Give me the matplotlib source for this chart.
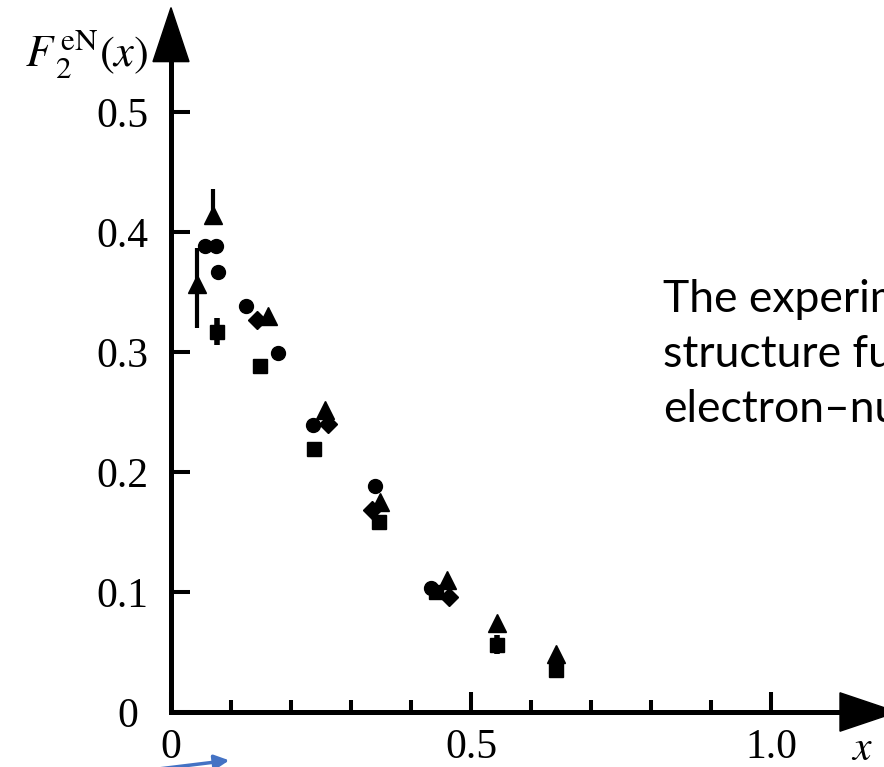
import matplotlib
matplotlib.use("Agg")
import matplotlib.pyplot as plt
from matplotlib.patches import Polygon
from matplotlib.ticker import FixedLocator
import matplotlib.transforms as mtransforms

# data: F2(x) for electron-nucleon scattering
tri_x = [0.043, 0.070, 0.162, 0.257, 0.348, 0.460, 0.543, 0.642]
tri_y = [0.357, 0.414, 0.330, 0.252, 0.175, 0.110, 0.074, 0.048]
tri_err_lo = [0.037, 0.0, 0.0, 0.0, 0.0, 0.0, 0.0, 0.0]
tri_err_hi = [0.030, 0.022, 0.0, 0.0, 0.0, 0.0, 0.0, 0.0]

circ_x = [0.057, 0.075, 0.078, 0.125, 0.178, 0.237, 0.340, 0.433]
circ_y = [0.388, 0.388, 0.367, 0.338, 0.299, 0.239, 0.188, 0.103]

sq_x = [0.077, 0.148, 0.238, 0.347, 0.442, 0.543, 0.642]
sq_y = [0.317, 0.288, 0.219, 0.158, 0.100, 0.056, 0.035]
sq_err = [0.011, 0.0, 0.0, 0.0, 0.0, 0.008, 0.006]

dia_x = [0.143, 0.262, 0.335, 0.463]
dia_y = [0.327, 0.240, 0.168, 0.096]

y_ticks = [0.0, 0.1, 0.2, 0.3, 0.4, 0.5]
y_labels = ["0", "0.1", "0.2", "0.3", "0.4", "0.5"]
x_major = [0.0, 0.5, 1.0]
x_labels = ["0", "0.5", "1.0"]
x_minor = [0.1, 0.2, 0.3, 0.4, 0.6, 0.7, 0.8, 0.9]

text_lines = ["The experimental", "structure function", "electron\u2013nucleon"]

W, H = 884, 767
plt.rcParams["mathtext.fontset"] = "stix"
serif = ["Liberation Serif", "DejaVu Serif"]

fig = plt.figure(figsize=(W / 100, H / 100), dpi=100)
ox, oy = 171, 712          # pixel of data origin
sx, sy = 600, 1200          # pixels per data unit
ax = fig.add_axes([ox / W, (H - oy) / H, (W - ox) / W, oy / H])
ax.set_xlim(0, (W - ox) / sx)
ax.set_ylim(0, oy / sy)
for s in ax.spines.values():
    s.set_visible(False)

lw = 3.6
k = dict(color="black", linestyle="none", clip_on=False)
ax.errorbar(tri_x, tri_y, yerr=[tri_err_lo, tri_err_hi], marker="^", ms=12.5,
            elinewidth=3, capsize=0, **k)
ax.plot(circ_x, circ_y, marker="o", ms=10, **k)
ax.errorbar(sq_x, sq_y, yerr=sq_err, marker="s", ms=10, elinewidth=4,
            capsize=0, **k)
ax.plot(dia_x, dia_y, marker="D", ms=9, **k)

# axis lines with arrow heads
ax.plot([0, 0], [0, 0.55], color="black", lw=lw, solid_capstyle="butt", clip_on=False)
ax.plot([0, 1.12], [0, 0], color="black", lw=lw, solid_capstyle="projecting", clip_on=False)
ax.add_patch(Polygon([[-0.030, 0.542], [0.030, 0.542], [0, 0.587]],
                     closed=True, color="black", clip_on=False))
ax.add_patch(Polygon([[1.115, -0.016], [1.115, 0.016], [1.21, 0]],
                     closed=True, color="black", clip_on=False))

ax.yaxis.set_major_locator(FixedLocator(y_ticks))
ax.set_yticklabels(y_labels, fontfamily=serif, fontsize=30)
ax.xaxis.set_major_locator(FixedLocator(x_major))
ax.xaxis.set_minor_locator(FixedLocator(x_minor))
ax.set_xticklabels(x_labels, fontfamily=serif, fontsize=30)
ax.tick_params(axis="y", which="major", direction="in", length=13.7, width=2.9, pad=16)
ax.tick_params(axis="x", which="major", direction="in", length=14.4, width=2.9, pad=12)
ax.tick_params(axis="x", which="minor", direction="in", length=8.6, width=2.9)
# the y "0" sits a little left of the others
lab0 = ax.get_yticklabels()[0]
lab0.set_transform(lab0.get_transform() + mtransforms.ScaledTranslation(-0.11, 0, fig.dpi_scale_trans))

fig.text(148 / W, 1 - 55 / H, r"$F_{\,2}^{\,\mathrm{eN}}(x)$", ha="right", va="center",
         fontsize=32)
fig.text(862 / W, 1 - 748 / H, r"$x$", ha="center", va="center", fontsize=30)

for i, line in enumerate(text_lines):
    fig.text(663 / W, 1 - (312 + 55 * i) / H, line, fontfamily="Lato", fontsize=32,
             ha="left", va="baseline", color="black")

ax.annotate("", xy=(232 / W, 1 - 760 / H), xytext=(150 / W, 1 - 770 / H),
            xycoords="figure fraction", textcoords="figure fraction",
            arrowprops=dict(arrowstyle="-|>", color="#4472C4", lw=2.5, mutation_scale=22))

fig.savefig("out.png", dpi=100)
